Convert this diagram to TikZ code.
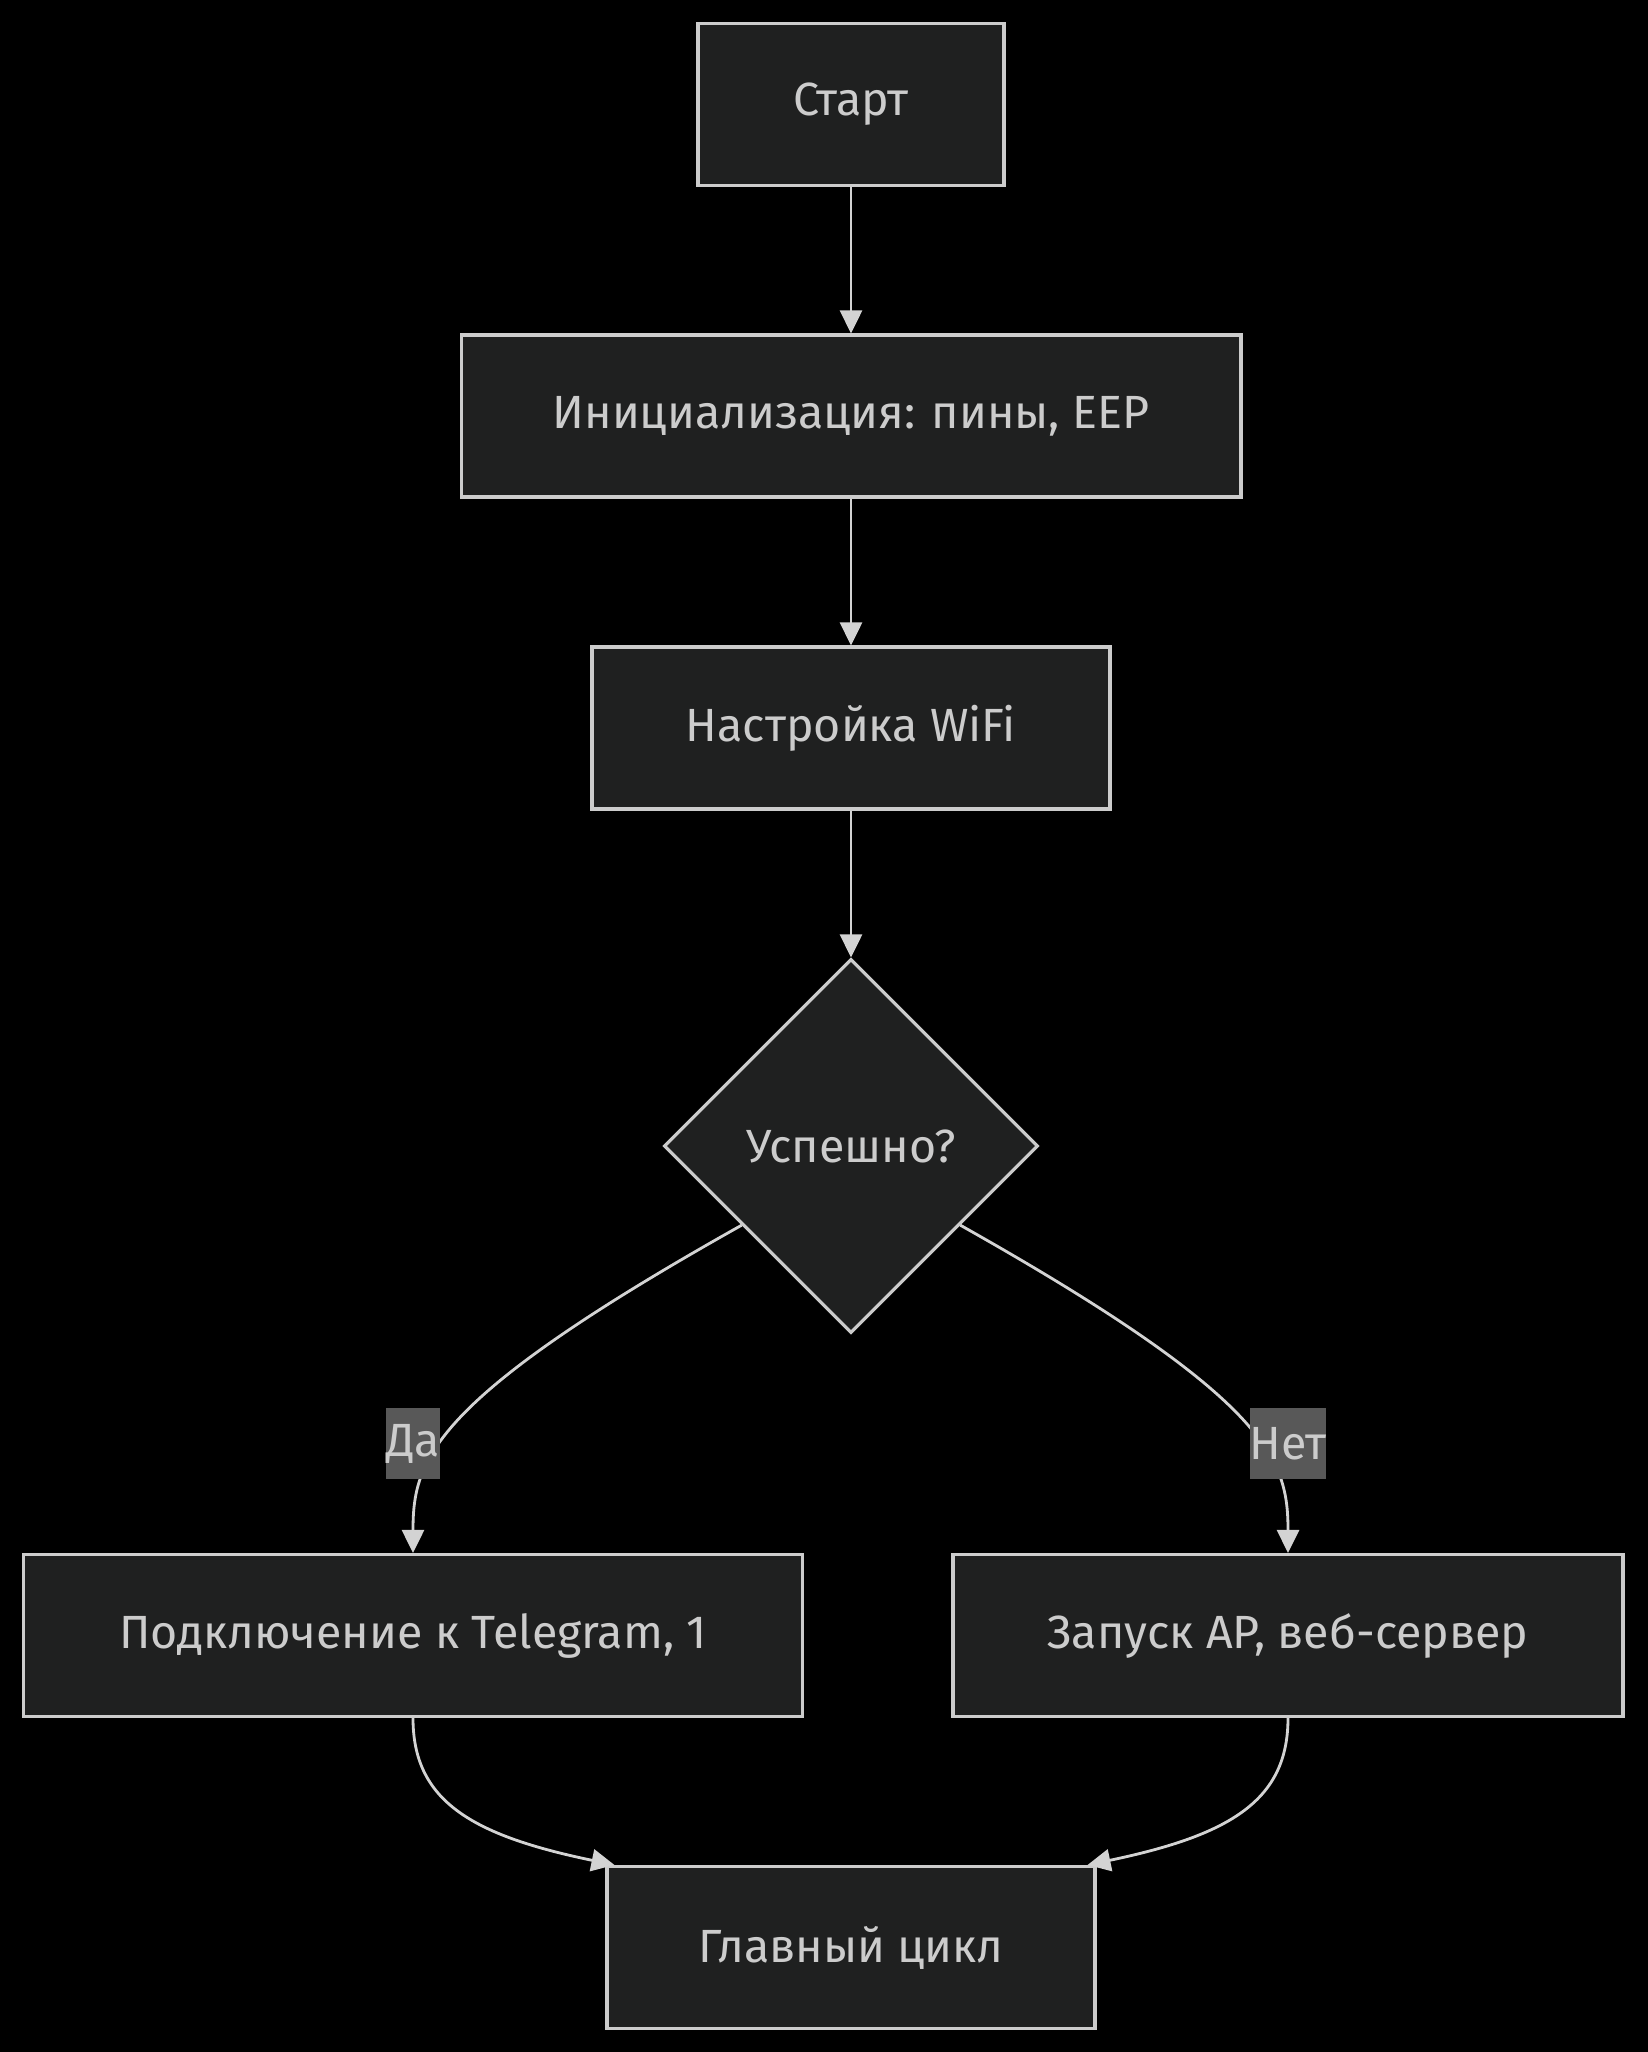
\documentclass[tikz,border=0pt]{standalone}
\usepackage{fontspec}
\setmainfont{Fira Sans}
\usetikzlibrary{arrows.meta,shapes.geometric,calc}

\definecolor{nodebg}{HTML}{1F2020}
\definecolor{nodeline}{HTML}{CCCCCC}
\definecolor{edgeline}{HTML}{D3D3D3}
\definecolor{lblbg}{HTML}{585858}

\tikzset{
  box/.style={draw=nodeline, fill=nodebg, line width=1.8pt, text=nodeline,
    minimum height=3.24cm, inner sep=0pt},
  decision/.style={diamond, aspect=1, draw=nodeline, fill=nodebg, line width=1.8pt,
    text=nodeline, minimum width=7.48cm, minimum height=7.48cm, inner sep=0pt},
  flow/.style={draw=edgeline, line width=1.6pt, -{Triangle[length=0.46cm,width=0.44cm]}},
  edgelbl/.style={fill=lblbg, text=nodeline, inner xsep=0pt, minimum height=1.42cm}
}

\begin{document}
\begin{tikzpicture}[x=0.02cm, y=-0.02cm, font=\fontsize{26.5}{31}\selectfont]
  \fill[black] (0,0) rectangle (1648,2052);
  \useasboundingbox (0,0) rectangle (1648,2052);

  % nodes
  \node[box, minimum width=6.12cm] (start) at (851,104.5) {Старт};
  \node[box, minimum width=15.6cm] (init) at (851,416) {Инициализация: пины, EEP};
  \node[box, minimum width=10.36cm] (wifi) at (851,728) {Настройка WiFi};
  \node[decision] (ok) at (851,1146) {Успешно?};
  \node[box, minimum width=15.58cm] (tg) at (413,1635.5) {Подключение к Telegram, 1};
  \node[box, minimum width=13.4cm] (ap) at (1288,1635.5) {Запуск AP, веб-сервер};
  \node[box, minimum width=9.76cm] (loop) at (851,1947.5) {Главный цикл};

  % edges
  \draw[flow] (start) -- (init);
  \draw[flow] (init) -- (wifi);
  \draw[flow] (wifi) -- (ok);
  \draw[flow] ($(ok.west)!0.42!(ok.south)$) .. controls (430,1400) and (413,1460) .. (tg.north);
  \draw[flow] ($(ok.east)!0.42!(ok.south)$) .. controls (1271,1400) and (1288,1460) .. (ap.north);
  \draw[flow] (tg.south) .. controls (413,1800) and (470,1835) .. ([xshift=0.18cm]loop.north west);
  \draw[flow] (ap.south) .. controls (1288,1800) and (1231,1835) .. ([xshift=-0.18cm]loop.north east);

  % edge labels
  \node[edgelbl] (yes) at (413,1443.5) {Да};
  \node[edgelbl] (no) at (1288,1443.5) {Нет};
\end{tikzpicture}
\end{document}
